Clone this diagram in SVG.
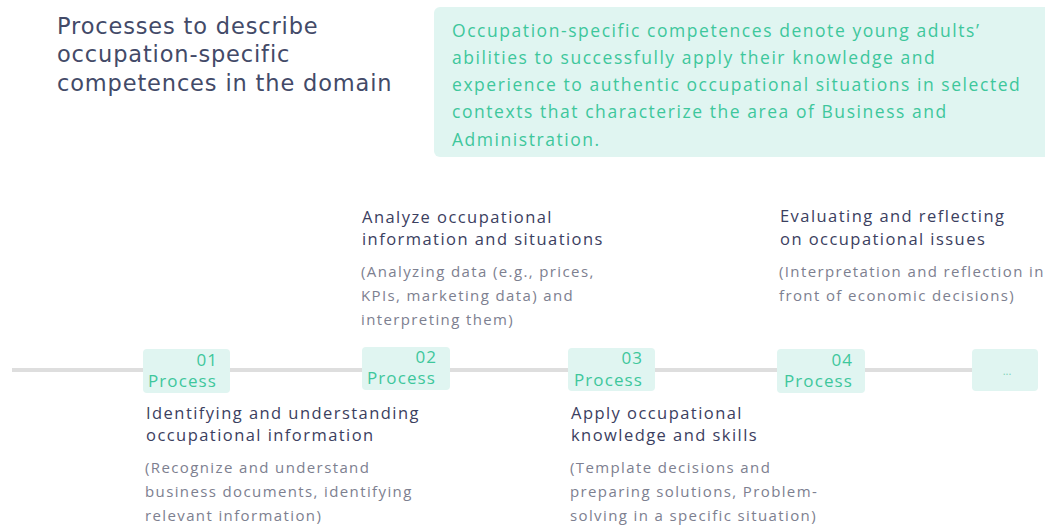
<svg xmlns="http://www.w3.org/2000/svg" width="1045" height="525" viewBox="0 0 1045 525">
<style>
text{font-family:"Open Sans","Noto Sans","Liberation Sans",sans-serif}
.head{font-family:"DejaVu Sans","Open Sans",sans-serif;font-size:22.5px;fill:#434a68;letter-spacing:0.85px}
.intro{font-size:17.5px;fill:#3ec79c;letter-spacing:1.55px}
.box{fill:#e0f5f1}
.num{font-size:17px;fill:#3ec79c;text-anchor:end;letter-spacing:1px}
.plab{font-size:17px;fill:#3ec79c;letter-spacing:1.1px}
.ttl{font-size:16.5px;fill:#3b4060;letter-spacing:1.45px}
.dsc{font-size:15px;fill:#7d8090;letter-spacing:1.38px}
.line{stroke:#dedede;stroke-width:4;fill:none}
</style>
<rect width="1045" height="525" fill="#ffffff"/>
<g id="heading">
<text class="head" x="57" y="34">Processes to describe</text>
<text class="head" x="57" y="62">occupation-specific</text>
<text class="head" x="57" y="91">competences in the domain</text>
</g>
<g id="definition">
<rect x="434" y="7" width="620" height="150" rx="6" fill="#e0f5f1"/>
<text class="intro" x="452" y="37">Occupation-specific competences denote young adults’</text>
<text class="intro" x="452" y="64">abilities to successfully apply their knowledge and</text>
<text class="intro" x="452" y="91">experience to authentic occupational situations in selected</text>
<text class="intro" x="452" y="118">contexts that characterize the area of Business and</text>
<text class="intro" x="452" y="146">Administration.</text>
</g>
<g id="connectors">
<line class="line" x1="12" y1="370" x2="972" y2="370"/>
</g>
<g id="process01">
<rect class="box" x="143" y="349" width="87" height="44" rx="4"/>
<text class="num" x="218" y="366">01</text>
<text class="plab" x="148" y="387">Process</text>
<text class="ttl" x="146" y="419">Identifying and understanding</text>
<text class="ttl" x="146" y="441">occupational information</text>
<text class="dsc" x="145" y="473">(Recognize and understand</text>
<text class="dsc" x="145" y="497">business documents, identifying</text>
<text class="dsc" x="145" y="521">relevant information)</text>
</g>
<g id="process02">
<rect class="box" x="362" y="347" width="88" height="43" rx="4"/>
<text class="num" x="437" y="363">02</text>
<text class="plab" x="367" y="384">Process</text>
<text class="ttl" x="362" y="223">Analyze occupational</text>
<text class="ttl" x="362" y="245">information and situations</text>
<text class="dsc" x="361" y="277">(Analyzing data (e.g., prices,</text>
<text class="dsc" x="361" y="301">KPIs, marketing data) and</text>
<text class="dsc" x="361" y="325">interpreting them)</text>
</g>
<g id="process03">
<rect class="box" x="568" y="348" width="87" height="43" rx="4"/>
<text class="num" x="643" y="364">03</text>
<text class="plab" x="574" y="386">Process</text>
<text class="ttl" x="571" y="419">Apply occupational</text>
<text class="ttl" x="571" y="441">knowledge and skills</text>
<text class="dsc" x="570" y="473">(Template decisions and</text>
<text class="dsc" x="570" y="497">preparing solutions, Problem-</text>
<text class="dsc" x="570" y="521">solving in a specific situation)</text>
</g>
<g id="process04">
<rect class="box" x="777" y="349" width="88" height="44" rx="4"/>
<text class="num" x="853" y="366">04</text>
<text class="plab" x="784" y="387">Process</text>
<text class="ttl" x="780" y="222">Evaluating and reflecting</text>
<text class="ttl" x="780" y="245">on occupational issues</text>
<text class="dsc" x="779" y="277">(Interpretation and reflection in</text>
<text class="dsc" x="779" y="301">front of economic decisions)</text>
</g>
<g id="process-more">
<rect class="box" x="972" y="349" width="66" height="42" rx="4"/>
<text x="1007" y="375" font-size="11" fill="#7fd3b8" text-anchor="middle">...</text>
</g>
</svg>
